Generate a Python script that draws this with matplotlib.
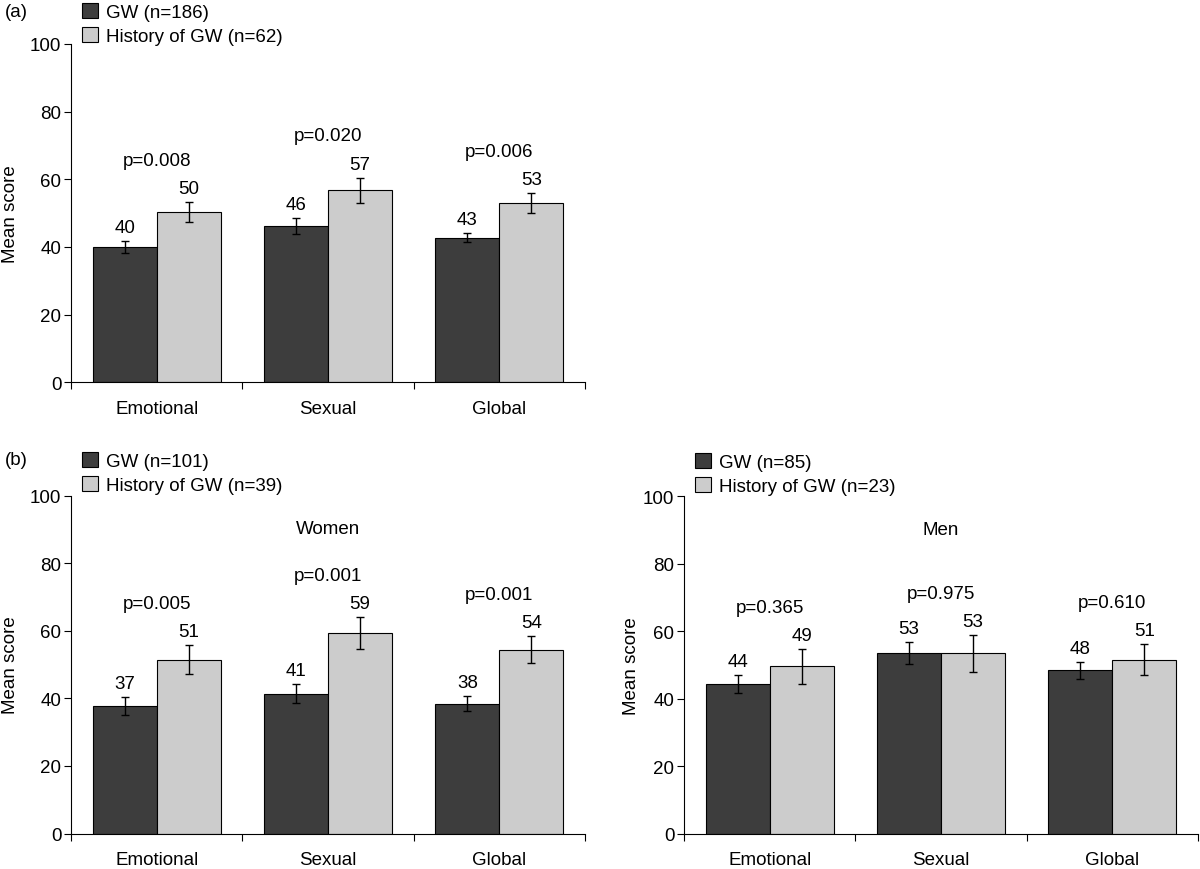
import matplotlib
matplotlib.use("Agg")
import matplotlib.pyplot as plt
import numpy as np

plt.rcParams['font.family'] = ['Liberation Sans', 'DejaVu Sans']
plt.rcParams['font.size'] = 13.5

categories = ['Emotional', 'Sexual', 'Global']

# (a) all patients
a_gw = [40.0, 46.3, 42.8]
a_gw_err = [1.75, 2.35, 1.45]
a_hist = [50.3, 56.8, 53.0]
a_hist_err = [3.05, 3.7, 3.0]
a_gw_txt = ['40', '46', '43']
a_hist_txt = ['50', '57', '53']
a_p = ['p=0.008', 'p=0.020', 'p=0.006']
a_leg = ['GW (n=186)', 'History of GW (n=62)']

# (b) women
w_gw = [37.7, 41.4, 38.4]
w_gw_err = [2.65, 2.8, 2.2]
w_hist = [51.4, 59.3, 54.4]
w_hist_err = [4.3, 4.75, 3.9]
w_gw_txt = ['37', '41', '38']
w_hist_txt = ['51', '59', '54']
w_p = ['p=0.005', 'p=0.001', 'p=0.001']
w_leg = ['GW (n=101)', 'History of GW (n=39)']

# (b) men
m_gw = [44.4, 53.5, 48.4]
m_gw_err = [2.7, 3.25, 2.5]
m_hist = [49.6, 53.4, 51.5]
m_hist_err = [5.15, 5.45, 4.6]
m_gw_txt = ['44', '53', '48']
m_hist_txt = ['49', '53', '51']
m_p = ['p=0.365', 'p=0.975', 'p=0.610']
m_leg = ['GW (n=85)', 'History of GW (n=23)']

dark = '#3d3d3d'
light = '#cccccc'
w = 0.3735


def draw_panel(ax, gw, gw_err, hist, hist_err, gw_txt, hist_txt, pvals, leg,
               title=None, leg_y=1.12):
    x = np.arange(len(categories)) + 0.5
    ekw = dict(ecolor='black', elinewidth=1.0, capsize=3, capthick=1.0)
    ax.bar(x - w / 2, gw, w, yerr=gw_err, color=dark, edgecolor='black',
           linewidth=0.8, error_kw=ekw, label=leg[0])
    ax.bar(x + w / 2, hist, w, yerr=hist_err, color=light, edgecolor='black',
           linewidth=0.8, error_kw=ekw, label=leg[1])

    for i in range(len(categories)):
        top1 = gw[i] + gw_err[i]
        top2 = hist[i] + hist_err[i]
        ax.annotate(gw_txt[i], xy=(x[i] - w / 2, top1), xytext=(0, 9.7),
                    textcoords='offset points', ha='center', va='center')
        ax.annotate(hist_txt[i], xy=(x[i] + w / 2, top2), xytext=(0, 9.7),
                    textcoords='offset points', ha='center', va='center')
        ax.annotate(pvals[i], xy=(x[i], max(top1, top2)), xytext=(0, 30),
                    textcoords='offset points', ha='center', va='center')

    ax.set_xlim(0, 3)
    ax.set_ylim(0, 100)
    ax.set_yticks([0, 20, 40, 60, 80, 100])
    ax.set_xticks([0, 1, 2, 3])
    ax.set_xticklabels([])
    ax.set_xticks(x, minor=True)
    ax.set_xticklabels(categories, minor=True)
    ax.tick_params(axis='x', which='major', direction='out', length=5, width=0.8)
    ax.tick_params(axis='x', which='minor', length=0, pad=12.5)
    ax.tick_params(axis='y', direction='out', length=5, width=0.8, pad=2)
    for s in ['top', 'right']:
        ax.spines[s].set_visible(False)
    for s in ['left', 'bottom']:
        ax.spines[s].set_linewidth(0.8)
    ax.set_ylabel('Mean score')
    ax.yaxis.set_label_coords(-0.101, 0.5)

    ax.legend(loc='upper left', bbox_to_anchor=(0.022, leg_y), frameon=False,
              borderpad=0, borderaxespad=0, handlelength=0.85, handleheight=0.85,
              handletextpad=0.4, labelspacing=0.3)
    if title:
        ax.text(0.5, 0.902, title, transform=ax.transAxes, ha='center', va='center')


fig = plt.figure(figsize=(12, 8.7), dpi=100)
ax_a = fig.add_axes([0.0592, 0.5594, 0.4283, 0.3889])
ax_w = fig.add_axes([0.0592, 0.0408, 0.4283, 0.3885])
ax_m = fig.add_axes([0.57, 0.0408, 0.4283, 0.3877])

draw_panel(ax_a, a_gw, a_gw_err, a_hist, a_hist_err, a_gw_txt, a_hist_txt, a_p, a_leg)
draw_panel(ax_w, w_gw, w_gw_err, w_hist, w_hist_err, w_gw_txt, w_hist_txt, w_p, w_leg,
           'Women', leg_y=1.128)
draw_panel(ax_m, m_gw, m_gw_err, m_hist, m_hist_err, m_gw_txt, m_hist_txt, m_p, m_leg,
           'Men', leg_y=1.128)
ax_m.yaxis.set_label_coords(-0.086, 0.5)

fig.text(0.004, 1 - 12.5 / 870, '(a)', ha='left', va='center')
fig.text(0.004, 1 - 461 / 870, '(b)', ha='left', va='center')

plt.savefig('out.png', dpi=100)
